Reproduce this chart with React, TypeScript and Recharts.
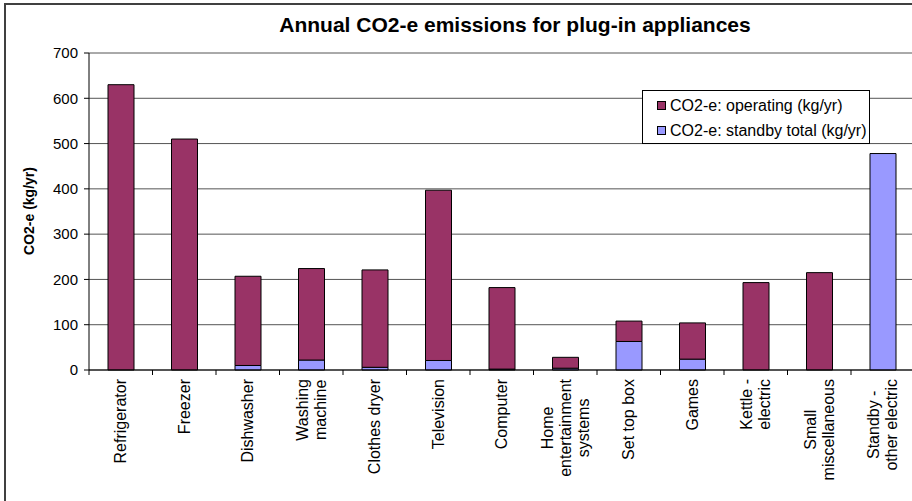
import { Bar, BarChart, CartesianGrid, XAxis, YAxis } from "recharts";

const categories = [
  "Refrigerator",
  "Freezer",
  "Dishwasher",
  "Washing\nmachine",
  "Clothes dryer",
  "Television",
  "Computer",
  "Home\nentertainment\nsystems",
  "Set top box",
  "Games",
  "Kettle -\nelectric",
  "Small\nmiscellaneous",
  "Standby -\nother electric",
];
const operating = [630, 510, 197, 202, 215, 376, 180, 24, 45, 80, 193, 215, 0];
const standby = [0, 0, 10, 22, 6, 21, 2, 4, 63, 24, 0, 0, 478];
const yTicks = [0, 100, 200, 300, 400, 500, 600, 700];
const legendLabels = ["CO2-e: operating (kg/yr)", "CO2-e: standby total (kg/yr)"];

const FONT = '"Liberation Sans", Arial, sans-serif';
const OPERATING = "#993366";
const STANDBY = "#9999FF";
const PLOT_LEFT = 89;
const BAND = 63.5;
const LABEL_SIZE = 16;

const data = categories.map((c, i) => ({
  name: c,
  operating: operating[i],
  standby: standby[i],
}));

let ctx: CanvasRenderingContext2D | null = null;
function textWidth(s: string) {
  if (!ctx) {
    ctx = document.createElement("canvas").getContext("2d");
    if (ctx) ctx.font = `${LABEL_SIZE}px ${FONT}`;
  }
  return ctx ? ctx.measureText(s).width : s.length * LABEL_SIZE * 0.5;
}

// Excel centres each line of a wrapped, rotated label inside the block
function CategoryTick(props: any) {
  const { x, y, payload, index } = props;
  const lines = String(payload.value).split("\n");
  const lh = 18;
  const block = Math.max(...lines.map(textWidth));
  return (
    <g>
      <line x1={x - BAND / 2} x2={x - BAND / 2} y1={y - 8} y2={y - 3} stroke="#000" />
      {index === categories.length - 1 && (
        <line x1={x + BAND / 2} x2={x + BAND / 2} y1={y - 8} y2={y - 3} stroke="#000" />
      )}
      <text
        transform={`translate(${x},${y + 1 + block / 2}) rotate(-90)`}
        textAnchor="middle"
        fontFamily={FONT}
        fontSize={LABEL_SIZE}
        fill="#000"
      >
        {lines.map((l, i) => (
          <tspan key={i} x={0} y={(i - (lines.length - 1) / 2) * lh} dominantBaseline="central">
            {l}
          </tspan>
        ))}
      </text>
    </g>
  );
}

function LegendBox() {
  const colors = [OPERATING, STANDBY];
  return (
    <div
      style={{
        position: "absolute",
        left: 642,
        top: 90,
        border: "1px solid #000",
        background: "#fff",
        width: 228,
        height: 54,
        boxSizing: "border-box",
        padding: "2px 0 0 14px",
        fontFamily: FONT,
        fontSize: 16,
      }}
    >
      {legendLabels.map((label, i) => (
        <div key={label} style={{ display: "flex", alignItems: "center", height: 25, whiteSpace: "nowrap" }}>
          <span
            style={{
              display: "inline-block",
              width: 7,
              height: 7,
              background: colors[i],
              border: "1px solid #000",
              marginRight: 4,
            }}
          />
          <span>{label}</span>
        </div>
      ))}
    </div>
  );
}

export default function App() {
  document.body.style.margin = "0";
  return (
    <div style={{ position: "relative", width: 912, height: 501, overflow: "hidden", background: "#fff" }}>
      <div
        style={{
          position: "absolute",
          left: 4,
          top: 3,
          width: 960,
          height: 560,
          borderLeft: "2px solid #404040",
          borderTop: "2px solid #404040",
        }}
      />
      <div
        style={{
          position: "absolute",
          top: 13,
          left: 0,
          width: 1030,
          textAlign: "center",
          fontFamily: FONT,
          fontWeight: "bold",
          fontSize: 21,
        }}
      >
        Annual CO2-e emissions for plug-in appliances
      </div>
      <BarChart
        width={PLOT_LEFT + 13 * BAND + 2}
        height={501}
        data={data}
        margin={{ top: 53, right: 2, left: 0, bottom: 0 }}
        barSize={26}
        style={{ position: "absolute", left: 0, top: 0 }}
      >
        <CartesianGrid horizontal vertical={false} stroke="#555" />
        <XAxis
          dataKey="name"
          interval={0}
          height={131}
          axisLine={{ stroke: "#000" }}
          tickLine={false}
          tick={<CategoryTick />}
        />
        <YAxis
          width={PLOT_LEFT}
          domain={[0, 700]}
          ticks={yTicks}
          interval={0}
          axisLine={{ stroke: "#000" }}
          tickLine={{ stroke: "#000" }}
          tickSize={5}
          tickMargin={6}
          tick={{ fontFamily: FONT, fontSize: 15, fill: "#000" }}
          label={{
            content: () => (
              <text
                transform="translate(29,211) rotate(-90)"
                textAnchor="middle"
                dominantBaseline="central"
                fontFamily={FONT}
                fontWeight="bold"
                fontSize={14}
                fill="#000"
              >
                CO2-e (kg/yr)
              </text>
            ),
          }}
        />
        <Bar dataKey="standby" stackId="a" fill={STANDBY} stroke="#000" strokeWidth={1} isAnimationActive={false} />
        <Bar dataKey="operating" stackId="a" fill={OPERATING} stroke="#000" strokeWidth={1} isAnimationActive={false} />
      </BarChart>
      <LegendBox />
    </div>
  );
}
